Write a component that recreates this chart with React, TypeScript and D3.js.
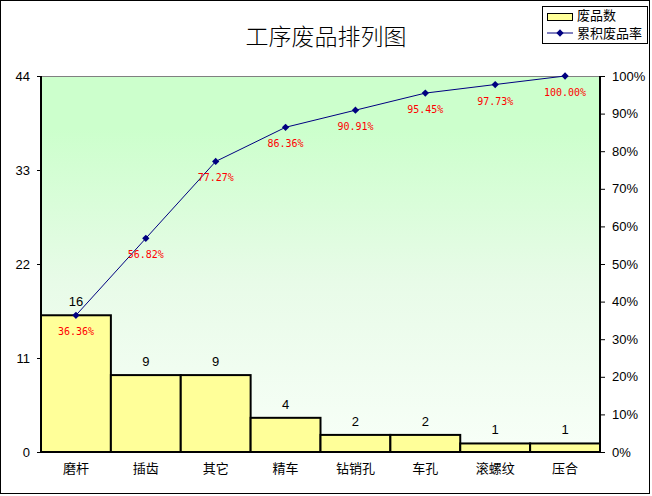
import React, { useEffect, useRef } from 'react';
import * as d3 from 'd3';

const categories = ['磨杆', '插齿', '其它', '精车', '钻销孔', '车孔', '滚螺纹', '压合'];
const counts = [16, 9, 9, 4, 2, 2, 1, 1];
const cumulativePct = [36.36, 56.82, 77.27, 86.36, 90.91, 95.45, 97.73, 100.0];
const countTicks = [0, 11, 22, 33, 44];
const pctTicks = [0, 10, 20, 30, 40, 50, 60, 70, 80, 90, 100];

const W = 652;
const H = 496;
const plot = { left: 41, right: 600, top: 76, bottom: 452 };
const cjk = '"Noto Sans CJK SC", "Noto Sans", sans-serif';

const App: React.FC = () => {
  const svgRef = useRef<SVGSVGElement>(null);

  useEffect(() => {
    if (!svgRef.current) return;
    const svg = d3.select(svgRef.current);
    svg.selectAll('*').remove();

    const x = d3.scaleBand<string>().domain(categories).range([plot.left, plot.right]).padding(0);
    const y = d3.scaleLinear().domain([0, 44]).range([plot.bottom, plot.top]);
    const yPct = d3.scaleLinear().domain([0, 100]).range([plot.bottom, plot.top]);

    // background gradient for plot area
    const defs = svg.append('defs');
    const grad = defs.append('linearGradient')
      .attr('id', 'bg')
      .attr('x1', 0).attr('y1', 0).attr('x2', 0).attr('y2', 1);
    grad.append('stop').attr('offset', '0%').attr('stop-color', '#ccffcc');
    grad.append('stop').attr('offset', '14%').attr('stop-color', '#ccffcc');
    grad.append('stop').attr('offset', '55%').attr('stop-color', '#e8fbe8');
    grad.append('stop').attr('offset', '100%').attr('stop-color', '#f8fff8');

    svg.append('rect')
      .attr('x', 0).attr('y', 0).attr('width', W).attr('height', H)
      .style('fill', '#fff');

    svg.append('rect')
      .attr('x', 0.5).attr('y', 0.5).attr('width', 649).attr('height', 493)
      .style('fill', 'none').style('stroke', '#000').style('stroke-width', 1);

    // title
    svg.append('text')
      .attr('x', 326).attr('y', 45)
      .attr('text-anchor', 'middle')
      .style('font-family', cjk).style('font-size', '23px')
      .style('font-weight', 300)
      .text('工序废品排列图');

    svg.append('rect')
      .attr('x', plot.left).attr('y', plot.top)
      .attr('width', plot.right - plot.left).attr('height', plot.bottom - plot.top)
      .style('fill', 'url(#bg)');

    svg.append('line')
      .attr('x1', plot.left).attr('x2', plot.right)
      .attr('y1', plot.top + 0.5).attr('y2', plot.top + 0.5)
      .style('stroke', '#808080');

    // bars
    svg.selectAll('.bar')
      .data(counts)
      .enter()
      .append('rect')
      .attr('class', 'bar')
      .attr('x', (d, i) => x(categories[i])!)
      .attr('y', d => y(d))
      .attr('width', x.bandwidth())
      .attr('height', d => plot.bottom - y(d))
      .style('fill', '#ffff99')
      .style('stroke', '#000')
      .style('stroke-width', 2);

    svg.selectAll('.barlabel')
      .data(counts)
      .enter()
      .append('text')
      .attr('x', (d, i) => x(categories[i])! + x.bandwidth() / 2)
      .attr('y', d => y(d) - 9)
      .attr('text-anchor', 'middle')
      .style('font-family', 'Arial, "Liberation Sans", sans-serif')
      .style('font-size', '13px')
      .text(d => d);

    // axes
    const leftAxis = d3.axisLeft(y).tickValues(countTicks).tickSize(4).tickPadding(7);
    const gl = svg.append('g').attr('transform', `translate(${plot.left},0)`).call(leftAxis);
    const rightAxis = d3.axisRight(yPct).tickValues(pctTicks).tickSize(5).tickPadding(7)
      .tickFormat(d => `${d}%`);
    const gr = svg.append('g').attr('transform', `translate(${plot.right},0)`).call(rightAxis);
    const bottomAxis = d3.axisBottom(x).tickSize(0).tickPadding(12);
    const gb = svg.append('g').attr('transform', `translate(0,${plot.bottom})`).call(bottomAxis);

    [gl, gr, gb].forEach(g => {
      g.select('.domain').style('stroke', '#000').style('stroke-width', 2);
      g.selectAll('.tick line').style('stroke', '#000');
      g.selectAll('.tick text')
        .style('fill', '#000')
        .style('font-family', 'Arial, "Liberation Sans", sans-serif')
        .style('font-size', '13px');
    });
    gl.select('.domain').attr('d', `M0,${plot.top}V${plot.bottom}`);
    gr.select('.domain').attr('d', `M0,${plot.top}V${plot.bottom}`);
    gb.select('.domain').attr('d', `M${plot.left},0H${plot.right}`);
    gb.selectAll('.tick text').style('font-family', cjk);

    // cumulative line
    const cx = (i: number) => x(categories[i])! + x.bandwidth() / 2;
    const line = d3.line<number>()
      .x((d, i) => cx(i))
      .y(d => yPct(d));
    svg.append('path')
      .datum(cumulativePct)
      .attr('d', line)
      .style('fill', 'none')
      .style('stroke', '#000080')
      .style('stroke-width', 1);

    const diamond = d3.symbol().type(d3.symbolDiamond2).size(34);
    svg.selectAll('.marker')
      .data(cumulativePct)
      .enter()
      .append('path')
      .attr('d', diamond)
      .attr('transform', (d, i) => `translate(${cx(i)},${yPct(d)})`)
      .style('fill', '#000080');

    svg.selectAll('.pctlabel')
      .data(cumulativePct)
      .enter()
      .append('text')
      .attr('x', (d, i) => cx(i))
      .attr('y', d => yPct(d) + 20)
      .attr('text-anchor', 'middle')
      .style('font-family', '"DejaVu Sans Mono", "Liberation Mono", monospace')
      .style('font-size', '10px')
      .style('fill', '#ff0000')
      .text(d => `${d.toFixed(2)}%`);

    // legend
    const lg = svg.append('g');
    lg.append('rect')
      .attr('x', 542.5).attr('y', 6.5).attr('width', 105).attr('height', 37)
      .style('fill', '#fff').style('stroke', '#000');
    lg.append('rect')
      .attr('x', 547.5).attr('y', 13.5).attr('width', 25).attr('height', 7)
      .style('fill', '#ffff99').style('stroke', '#000');
    lg.append('text')
      .attr('x', 577).attr('y', 20)
      .style('font-family', cjk).style('font-size', '13px')
      .text('废品数');
    lg.append('line')
      .attr('x1', 547).attr('x2', 573).attr('y1', 33).attr('y2', 33)
      .style('stroke', '#000080');
    lg.append('path')
      .attr('d', diamond)
      .attr('transform', 'translate(560,33)')
      .style('fill', '#000080');
    lg.append('text')
      .attr('x', 577).attr('y', 38)
      .style('font-family', cjk).style('font-size', '13px')
      .text('累积废品率');
  }, []);

  return (
    <svg
      ref={svgRef}
      width={W}
      height={H}
      style={{ position: 'absolute', left: 0, top: 0, display: 'block' }}
    />
  );
};

export default App;
